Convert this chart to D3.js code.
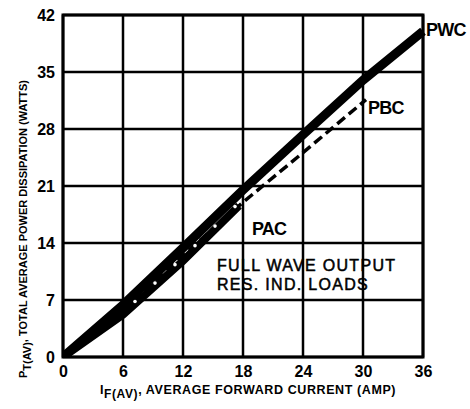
<!DOCTYPE html>
<html><head><meta charset="utf-8">
<script src="https://cdn.jsdelivr.net/npm/d3@7"></script>
<style>
html,body{margin:0;padding:0;background:#fff;}
svg text{font-family:"Liberation Sans",Arial,Helvetica,sans-serif;fill:#000;}
</style></head>
<body><svg id="c" width="470" height="409"></svg>
<script>
// ---- data ----
const xTicks = [0, 6, 12, 18, 24, 30, 36];
const yTicks = [0, 7, 14, 21, 28, 35, 42];
const pwcI = [0, 6, 12, 18, 24, 30, 36];
const pwcP = [0, 6.4, 13.4, 20.5, 27.3, 34.0, 40.0];
const pacI = [0, 6, 12, 17.6];
const pacP = [0, 5.2, 11.8, 18.6];
const pbcI = [0, 6, 12, 18, 24, 30.3];
const pbcP = [0, 6.0, 12.5, 19.0, 25.1, 31.6];
const curveLabels = ["PWC", "PBC", "PAC"];
const noteLines = ["FULL WAVE OUTPUT", "RES. IND. LOADS"];

const svg = d3.select("#c");
const m = {l: 63, r: 423, t: 15, b: 357};
const x = d3.scaleLinear().domain([0, 36]).range([m.l, m.r]);
const y = d3.scaleLinear().domain([0, 42]).range([m.b, m.t]);

// grid
const g = svg.append("g");
g.selectAll(".vg").data(xTicks).enter().append("line")
  .attr("x1", d => x(d)).attr("x2", d => x(d)).attr("y1", y(0)).attr("y2", y(42))
  .attr("stroke", "#000").attr("stroke-width", 2.5);
g.selectAll(".hg").data(yTicks).enter().append("line")
  .attr("x1", x(0)).attr("x2", x(36)).attr("y1", d => y(d)).attr("y2", d => y(d))
  .attr("stroke", "#000").attr("stroke-width", 2.5);
svg.append("rect").attr("x", x(0)).attr("y", y(42)).attr("width", x(36) - x(0)).attr("height", y(0) - y(42))
  .attr("fill", "none").attr("stroke", "#000").attr("stroke-width", 3);

// axes (labels only)
const xAxis = d3.axisBottom(x).tickValues(xTicks).tickSize(0).tickPadding(0);
const ax = svg.append("g").attr("transform", `translate(0,${m.b + 9})`).call(xAxis);
ax.select(".domain").remove();
ax.selectAll("text").attr("font-size", 16).attr("font-weight", "bold").attr("dy", "0.71em");
const yAxis = d3.axisLeft(y).tickValues(yTicks).tickSize(0).tickPadding(0);
const ay = svg.append("g").attr("transform", `translate(${m.l - 8},0)`).call(yAxis);
ay.select(".domain").remove();
ay.selectAll("text").attr("font-size", 16).attr("font-weight", "bold").attr("dy", "0.35em");

// curves
const lineGen = (I, P) => d3.line().x((d, i) => x(I[i])).y((d, i) => y(P[i]))(I);
svg.append("clipPath").attr("id", "pc").append("rect")
  .attr("x", x(0)).attr("y", y(42)).attr("width", x(36) - x(0) + 3).attr("height", y(0) - y(42));
const cg = svg.append("g").attr("clip-path", "url(#pc)");
cg.append("path").attr("d", lineGen(pbcI, pbcP)).attr("fill", "none").attr("stroke", "#000")
  .attr("stroke-width", 3.5).attr("stroke-dasharray", "10,5");
cg.append("path").attr("d", lineGen(pacI, pacP)).attr("fill", "none").attr("stroke", "#000")
  .attr("stroke-width", 8);
cg.append("path").attr("d", lineGen(pwcI, pwcP)).attr("fill", "none").attr("stroke", "#000")
  .attr("stroke-width", 9);
// seam dots between PWC and PAC
const seamI = d3.range(7, 17.5, 2);
const interp = (I, P, v) => {
  for (let i = 1; i < I.length; i++) if (v <= I[i]) {
    const t = (v - I[i-1]) / (I[i] - I[i-1]); return P[i-1] + t * (P[i] - P[i-1]);
  }
  return P[P.length-1];
};
cg.selectAll(".seam").data(seamI).enter().append("circle")
  .attr("cx", d => x(d) + 2)
  .attr("cy", d => y((interp(pwcI, pwcP, d) + interp(pacI, pacP, d)) / 2) + 1)
  .attr("r", 1.8).attr("fill", "#fff");

// curve labels
const lab = [
  {t: curveLabels[0], x: 426, y: 36, s: 18},
  {t: curveLabels[1], x: 368, y: 114, s: 18},
  {t: curveLabels[2], x: 252, y: 235, s: 18}
];
svg.selectAll(".cl").data(lab).enter().append("text")
  .attr("x", d => d.x).attr("y", d => d.y).attr("font-size", d => d.s)
  .attr("font-weight", "bold").attr("letter-spacing", -0.8).text(d => d.t);
svg.selectAll(".nl").data(noteLines).enter().append("text")
  .attr("x", 217).attr("y", (d, i) => 271 + i * 19).attr("font-size", 16)
  .attr("stroke", "#000").attr("stroke-width", 0.5)
  .attr("letter-spacing", 1.3).text(d => d);

// axis titles
const xt = svg.append("text").attr("x", 100).attr("y", 394).attr("font-size", 12.5)
  .attr("font-weight", "bold").attr("letter-spacing", 0.6);
xt.append("tspan").text("I");
xt.append("tspan").attr("dy", 4).attr("font-size", 12).text("F(AV)");
xt.append("tspan").attr("dy", -4).text(", AVERAGE FORWARD CURRENT (AMP)");
const yt = svg.append("text").attr("transform", "translate(27,378) rotate(-90)")
  .attr("font-size", 11).attr("font-weight", "bold");
yt.append("tspan").text("P");
yt.append("tspan").attr("dy", 4).attr("font-size", 11).text("T(AV)");
yt.append("tspan").attr("dy", -4).text(", TOTAL AVERAGE POWER DISSIPATION (WATTS)");
</script></body></html>
